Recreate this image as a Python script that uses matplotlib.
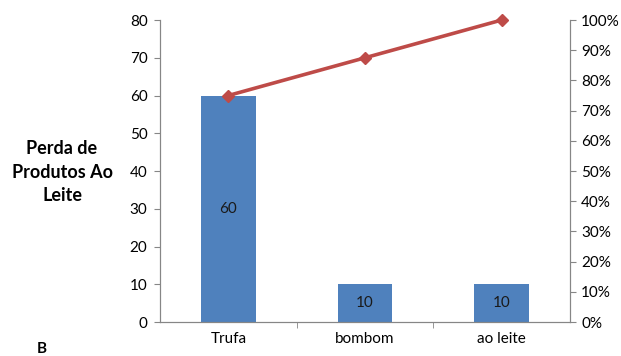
import numpy as np
import matplotlib.pyplot as plt
from matplotlib.ticker import PercentFormatter

plt.rcParams['font.family'] = ['Lato', 'DejaVu Sans']

# Pareto data: product losses
produtos = ['Trufa', 'bombom', 'ao leite']
perdas = [60, 10, 10]
acumulado = [75, 87.5, 100]  # cumulative %

bar_color = '#4F81BD'
line_color = '#BE4B48'
axis_color = '#868686'
fs = 11

fig = plt.figure(figsize=(6.21, 3.56), dpi=100)
ax = fig.add_axes([0.2577, 0.0955, 0.6603, 0.8483])

x = np.arange(len(produtos))
bars = ax.bar(x, perdas, width=0.4, color=bar_color, zorder=2)
ax.bar_label(bars, labels=[str(v) for v in perdas], label_type='center',
             fontsize=fs, color='#1a1a1a')

ax.set_xlim(-0.5, len(produtos) - 0.5)
ax.set_ylim(0, 80)
ax.set_yticks(range(0, 81, 10))
ax.set_xticks(x)
ax.set_xticklabels(produtos)
ax.set_xticks(np.arange(0.5, len(produtos) - 0.5, 1), minor=True)
ax.tick_params(axis='x', which='major', length=0, pad=7, labelsize=fs)
ax.tick_params(axis='x', which='minor', length=4, color=axis_color, direction='out')
ax.tick_params(axis='y', length=4, color=axis_color, labelsize=fs, pad=5)

ax.spines['top'].set_visible(False)
for side in ['left', 'bottom', 'right']:
    ax.spines[side].set_color(axis_color)

fig.text(62 / 621, 1 - 172 / 356, 'Perda de\nProdutos Ao\nLeite', fontsize=13,
         fontweight='bold', ha='center', va='center', linespacing=1.45)

ax2 = ax.twinx()
ax2.plot(x, acumulado, color=line_color, linewidth=2.6, marker='D',
         markersize=6, zorder=3, clip_on=False)
ax2.set_ylim(0, 100)
ax2.set_yticks(range(0, 101, 10))
ax2.yaxis.set_major_formatter(PercentFormatter(decimals=0))
ax2.tick_params(axis='y', length=4, color=axis_color, labelsize=fs, pad=4)
ax2.spines['top'].set_visible(False)
for side in ['left', 'bottom', 'right']:
    ax2.spines[side].set_color(axis_color)

fig.text(42 / 621, 1 - 349 / 356, 'B', fontsize=11, fontweight='bold',
         ha='center', va='center')

fig.savefig('out.png', dpi=100)
